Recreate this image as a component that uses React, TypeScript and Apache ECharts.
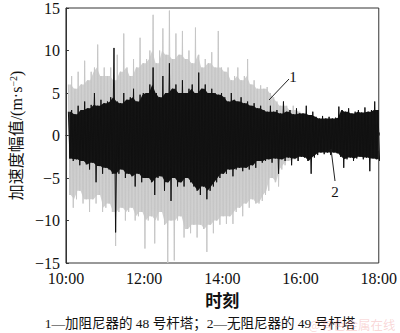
import React, { useEffect, useRef } from "react";
import * as echarts from "echarts";

// x axis in minutes after 10:00
const xTickLabels = ["10:00", "12:00", "14:00", "16:00", "18:00"];
const binStartMin = 5;
const binStepMin = 5;

// Series 1 (grey) envelope per 5-minute bin, 10:05 .. 18:00
const grayMax = [
  6, 7, 5.5, 7.5, 6, 8.8, 6.5, 7.5, 8, 10.7, 7, 8,
  7, 8, 6.5, 9.5, 7.5, 12, 8, 7, 9, 8, 11.5, 8.5,
  9, 10, 14.2, 8.5, 10, 12.6, 9.5, 14.7, 9, 12, 9.5, 12.3,
  9, 10, 8.5, 12.7, 9.5, 8, 9, 8.5, 9.8, 8, 12.3, 8,
  7.5, 8, 6.5, 7, 8, 6.5, 7, 9, 6, 6.5, 5.5, 5.9,
  5.5, 5.7, 5, 4.5, 4, 3.5, 4, 3.5, 3, 3.5, 3, 2.8,
  2.5, 2.3, 2, 2.2, 1.8, 1.7, 1.8, 1.6, 1.8, 1.7, 1.8, 2,
  1.8, 1.7, 1.9, 1.6, 1.8, 1.7, 1.8, 1.9, 1.7, 1.8, 2, 1.8,
];
const grayMin = [
  -7, -8.5, -7.5, -6.5, -8, -7.5, -9, -7.5, -8, -7, -9, -8.5,
  -8, -9, -13, -9, -8.5, -10, -9, -8.5, -10, -9.5, -9, -13.3,
  -10, -9.5, -12.7, -10, -9, -10.5, -15, -10, -14.7, -10, -9.5, -12,
  -11, -11.5, -10.5, -12, -10.5, -11, -13.7, -10.5, -11.5, -10, -10.5, -9.5,
  -10.4, -9.5, -10.4, -9, -8.5, -9.5, -8, -8.5, -7.5, -8, -8, -7.7,
  -7, -6.5, -5, -5.5, -6, -4, -3.5, -3, -3.2, -2.8, -3, -2.5,
  -2.4, -2.2, -2, -2.1, -1.8, -1.7, -1.8, -1.6, -1.8, -1.7, -1.8, -2,
  -1.8, -1.7, -1.9, -1.6, -1.8, -1.7, -1.8, -1.9, -1.7, -1.8, -2, -1.8,
];

// Series 2 (black) envelope per 5-minute bin
const blackMax = [
  2.8, 3, 2.5, 3.5, 3, 4, 3.2, 3.6, 5, 3.5, 4.2, 3.8,
  4, 4.5, 10.3, 4, 3.8, 5, 4.2, 4.5, 5.5, 4, 4.8, 5,
  5, 6, 8, 5, 4.5, 7, 5, 8.5, 5.5, 6, 5, 6.5,
  5, 5.5, 6, 5, 7.4, 5.5, 6, 5, 5.5, 5, 4.8, 5,
  4.5, 4, 5, 4.2, 4, 4.5, 3.8, 4, 3.5, 3.8, 3.2, 3.5,
  3, 2.8, 3.5, 2.8, 3, 2.6, 4, 2.8, 3, 2.5, 3.2, 2.6,
  2.6, 3.5, 2.4, 2.8, 2.2, 2, 2.3, 2, 2.2, 2, 2.1, 3.4,
  3, 2.8, 3.2, 2.6, 2.8, 3, 2.7, 3.3, 2.8, 3, 4, 3,
];
const blackMin = [
  -2.7, -3, -2.8, -3.5, -3, -3.4, -4, -3.2, -5.5, -3.6, -4.5, -3.8,
  -4, -4.5, -11.4, -4.5, -4, -5, -4.5, -4.8, -6, -4.5, -5.5, -5,
  -5, -5.5, -7, -5, -4.8, -6.5, -5.5, -7.7, -5, -6, -5.5, -6,
  -5, -5.5, -6, -6.5, -7, -6, -7.5, -6.5, -6, -5.5, -5, -4.5,
  -4.5, -4, -4.8, -4, -3.8, -4.2, -3.8, -4, -3.5, -3.8, -3, -3.2,
  -3, -2.8, -3.2, -2.7, -4.5, -2.8, -3, -2.6, -3.5, -2.7, -3, -2.5,
  -2.6, -3, -4.5, -2.6, -2.3, -2, -2.2, -2, -2.3, -2, -2.1, -2.5,
  -3.8, -2.8, -2.6, -3, -2.7, -2.5, -2.8, -2.6, -4.2, -2.7, -2.8, -3,
];

const caption = "1—加阻尼器的 48 号杆塔；2—无阻尼器的 49 号杆塔";

const binTime = (i: number) => binStartMin + i * binStepMin;

// spiky trace: alternate each bin's peak and trough
function zigzag(maxs: number[], mins: number[]) {
  const pts: number[][] = [];
  for (let i = 0; i < maxs.length; i++) {
    const t = binTime(i);
    pts.push([t - binStepMin / 4, maxs[i]]);
    pts.push([t + binStepMin / 4, mins[i]]);
  }
  return pts;
}

// dense core: lower of each pair of neighbouring read peaks, placed between bins
function core(maxs: number[], mins: number[]) {
  const up: number[][] = [];
  const lo: number[][] = [];
  const n = maxs.length;
  up.push([binTime(0), Math.min(maxs[0], maxs[1])]);
  lo.push([binTime(0), Math.max(mins[0], mins[1])]);
  for (let i = 0; i < n - 1; i++) {
    const t = binTime(i) + binStepMin / 2;
    up.push([t, Math.min(maxs[i], maxs[i + 1])]);
    lo.push([t, Math.max(mins[i], mins[i + 1])]);
  }
  up.push([binTime(n - 1), Math.min(maxs[n - 1], maxs[n - 2])]);
  lo.push([binTime(n - 1), Math.max(mins[n - 1], mins[n - 2])]);
  return up.concat(lo.reverse());
}

function bandSeries(poly: number[][], fill: string, z: number) {
  return {
    type: "custom",
    silent: true,
    z,
    clip: true,
    data: [0],
    renderItem: (_params: any, api: any) => ({
      type: "polygon",
      shape: { points: poly.map((p) => api.coord(p)) },
      style: { fill, stroke: "none" },
    }),
  };
}

const SERIF = "'Liberation Serif', 'Noto Sans CJK SC', serif";

export default function App() {
  const ref = useRef<HTMLDivElement>(null);
  useEffect(() => {
    const chart = echarts.init(ref.current!, null, { renderer: "svg" });
    const option: any = {
      animation: false,
      backgroundColor: "#fff",
      grid: {
        left: 55,
        right: 16,
        top: 5,
        bottom: 70,
        show: true,
        borderColor: "#333",
        borderWidth: 1,
      },
      xAxis: {
        type: "value",
        min: 0,
        max: 480,
        interval: 120,
        axisLine: { show: true, lineStyle: { color: "#333", width: 1 } },
        axisTick: { show: true, inside: true, length: 3, lineStyle: { color: "#333" } },
        splitLine: { show: false },
        axisLabel: {
          margin: 7,
          color: "#111",
          fontSize: 16,
          fontFamily: SERIF,
          formatter: (v: number) => xTickLabels[Math.round(v / 120)] ?? "",
        },
        name: "时刻",
        nameLocation: "middle",
        nameGap: 28,
        nameTextStyle: {
          fontSize: 17,
          fontWeight: "bold",
          color: "#111",
          fontFamily: "'Noto Sans CJK SC', sans-serif",
        },
      },
      yAxis: {
        type: "value",
        min: -15,
        max: 15,
        interval: 5,
        axisLine: { show: true, lineStyle: { color: "#333", width: 1 } },
        axisTick: { show: true, inside: true, length: 3, lineStyle: { color: "#333" } },
        splitLine: { show: false },
        axisLabel: {
          margin: 6,
          color: "#111",
          fontSize: 16,
          fontFamily: SERIF,
          formatter: (v: number) => (v < 0 ? "\u2212" + Math.abs(v) : String(v)),
        },
        name: "{a|加速度幅值/(m·s}{s|−2}{a|)}",
        nameLocation: "middle",
        nameRotate: 90,
        nameGap: 40,
        nameTextStyle: {
          rich: {
            a: { fontSize: 16, color: "#111", fontFamily: SERIF },
            s: { fontSize: 10, color: "#111", fontFamily: SERIF, verticalAlign: "top" },
          },
        },
      },
      series: [
        bandSeries(core(grayMax, grayMin), "#d0d0d0", 1),
        {
          type: "line",
          data: zigzag(grayMax, grayMin),
          symbol: "none",
          silent: true,
          lineStyle: { color: "#c6c6c6", width: 1 },
          z: 2,
        },
        bandSeries(core(blackMax, blackMin), "#141414", 3),
        {
          type: "line",
          data: zigzag(blackMax, blackMin),
          symbol: "none",
          silent: true,
          lineStyle: { color: "#111", width: 1 },
          z: 4,
        },
      ],
      graphic: [
        { type: "line", shape: { x1: 269, y1: 100, x2: 289, y2: 79 }, style: { stroke: "#222", lineWidth: 1 }, z: 10 },
        { type: "text", x: 293, y: 77, style: { text: "1", fontSize: 15, fontFamily: SERIF, fill: "#111", align: "center", verticalAlign: "middle" }, z: 10 },
        { type: "line", shape: { x1: 331, y1: 149, x2: 335, y2: 181 }, style: { stroke: "#222", lineWidth: 1 }, z: 10 },
        { type: "text", x: 335, y: 192, style: { text: "2", fontSize: 15, fontFamily: SERIF, fill: "#111", align: "center", verticalAlign: "middle" }, z: 10 },
        { type: "text", x: 200, y: 323, style: { text: caption, fontSize: 13.5, fontFamily: SERIF, fill: "#111", align: "center", verticalAlign: "middle" }, z: 10 },
        { type: "text", x: 352, y: 324, style: { text: "@有色金属在线", fontSize: 12.5, fontFamily: "'Noto Sans CJK SC', sans-serif", fill: "rgba(235,120,120,0.3)", align: "center", verticalAlign: "middle" }, z: 11 },
      ],
    };
    chart.setOption(option);
    return () => chart.dispose();
  }, []);
  return (
    <div
      ref={ref}
      style={{ position: "fixed", left: 0, top: 0, width: 400, height: 333, background: "#fff" }}
    />
  );
}
